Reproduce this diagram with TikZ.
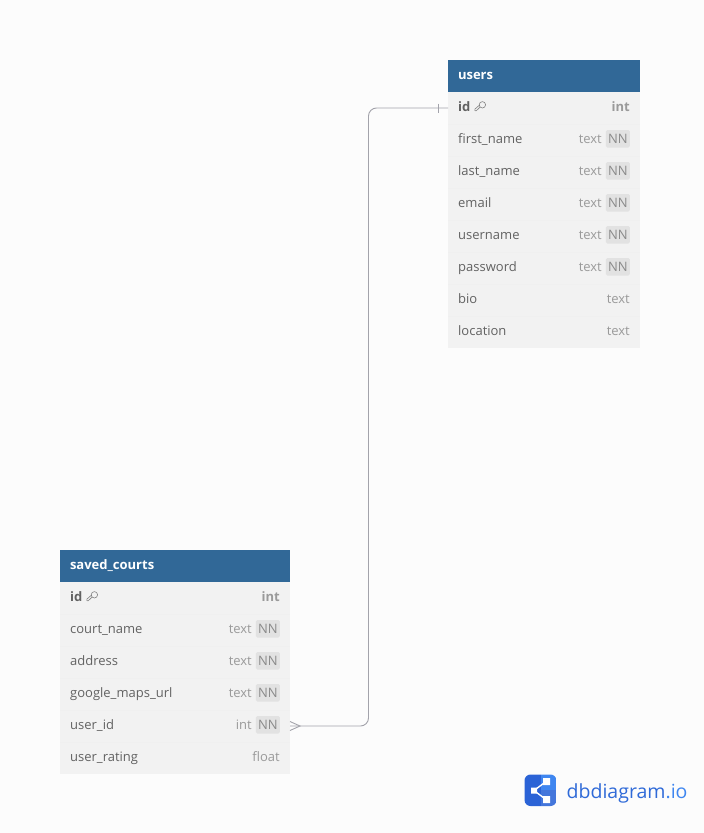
\documentclass[tikz,border=0pt]{standalone}
\usepackage{fontspec}
\setmainfont{Open Sans}
\usetikzlibrary{positioning}
\definecolor{pagebg}{HTML}{FCFCFC}
\definecolor{headblue}{HTML}{316897}
\definecolor{rowgray}{HTML}{F2F2F2}
\definecolor{rowline}{HTML}{F0F0F0}
\definecolor{fieldtxt}{HTML}{626262}
\definecolor{typetxt}{HTML}{9A9A9A}
\definecolor{nnfill}{HTML}{E2E2E2}
\definecolor{nntxt}{HTML}{8A8A8A}
\definecolor{linkgray}{HTML}{A3A3AB}
\definecolor{logodark}{HTML}{2B63D6}
\definecolor{logolight}{HTML}{3F86F0}
\definecolor{logotxt}{HTML}{2F6AD8}
\tikzset{
  tablehead/.style={fill=headblue,text=white,font=\fontsize{13}{15}\selectfont\bfseries,inner xsep=10pt,inner ysep=0pt,outer sep=0pt,minimum height=32pt,text width=#1-20pt,align=left,text height=9.5pt,text depth=3pt},
  rowbox/.style={fill=rowgray,inner sep=0pt,outer sep=0pt,minimum height=32pt,minimum width=#1},
  fieldname/.style={text=fieldtxt,font=\fontsize{13}{15}\selectfont,inner sep=0pt,anchor=west,text height=9.5pt,text depth=3pt},
  fieldtype/.style={text=typetxt,font=\fontsize{13}{15}\selectfont,inner sep=0pt,anchor=east,text height=9.5pt,text depth=3pt},
  nnbadge/.style={fill=nnfill,text=nntxt,font=\fontsize{13}{15}\selectfont,inner sep=0pt,rounded corners=1.5pt,minimum width=24pt,minimum height=17.5pt,anchor=east,yshift=1.25pt},
  keyicon/.pic={\draw[fieldtxt!80!white,line width=.6pt,line join=round] (2.4,-2.2) circle (3.2) (.2,0)--(-3.8,3.8)--(-5.2,3.6)--(-5.2,2.2)--(-.4,-2);},
  rel/.style={linkgray,line width=.9pt},
}
\begin{document}
\begin{tikzpicture}[x=1pt,y=-1pt]
\useasboundingbox[fill=pagebg] (0,0) rectangle (704,833);
% users
\node[tablehead=192pt,anchor=north west] (usershead) at (448,60) {users};
\node[rowbox=192pt,below=0pt of usershead] (usersrow1) {};
\node[fieldname,right=10pt of usersrow1.west,font=\fontsize{13}{15}\selectfont\bfseries] (usersname1) {id};
\node[fieldtype,left=10pt of usersrow1.east,font=\fontsize{13}{15}\selectfont\bfseries] (userstype1) {int};
\pic at (480,107) {keyicon};
\foreach \i/\fname/\ftype/\tx in {2/first\_name/text/38,3/last\_name/text/38,4/email/text/38,5/username/text/38,6/password/text/38,7/bio/text/10,8/location/text/10}{
  \pgfmathsetmacro\off{32*(\i-1)}
  \node[rowbox=192pt,below=\off pt of usershead] (usersrow\i) {};
  \draw[rowline,line width=.5pt] (usersrow\i.north west)--(usersrow\i.north east);
  \node[fieldname,right=10pt of usersrow\i.west] (usersname\i) {\fname};
  \node[fieldtype,left=\tx pt of usersrow\i.east] (userstype\i) {\ftype};
}
\foreach \i in {2,...,6}
  \node[nnbadge,left=10pt of usersrow\i.east] (usersnn\i) {NN};
% saved_courts
\node[tablehead=230pt,anchor=north west] (savedhead) at (60,550) {saved\_courts};
\node[rowbox=230pt,below=0pt of savedhead] (savedrow1) {};
\node[fieldname,right=10pt of savedrow1.west,font=\fontsize{13}{15}\selectfont\bfseries] (savedname1) {id};
\node[fieldtype,left=10pt of savedrow1.east,font=\fontsize{13}{15}\selectfont\bfseries] (savedtype1) {int};
\pic at (92,597) {keyicon};
\foreach \i/\fname/\ftype/\tx in {2/court\_name/text/38,3/address/text/38,4/google\_maps\_url/text/38,5/user\_id/int/38,6/user\_rating/float/10}{
  \pgfmathsetmacro\off{32*(\i-1)}
  \node[rowbox=230pt,below=\off pt of savedhead] (savedrow\i) {};
  \draw[rowline,line width=.5pt] (savedrow\i.north west)--(savedrow\i.north east);
  \node[fieldname,right=10pt of savedrow\i.west] (savedname\i) {\fname};
  \node[fieldtype,left=\tx pt of savedrow\i.east] (savedtype\i) {\ftype};
}
\foreach \i in {2,...,5}
  \node[nnbadge,left=10pt of savedrow\i.east] (savednn\i) {NN};
% relation
\draw[rel,rounded corners=8pt] (savedrow5.east)--++(78.5,0)|-(usersrow1.west);
\draw[rel] (savedrow5.east)++(0,-4.5)--++(10,4.5)--++(-10,4.5);
\draw[rel] (usersrow1.west)++(-10,-4.5)--++(0,9);
% logo
\begin{scope}
\clip[rounded corners=6pt] (524.5,774.5) rectangle (556.5,806);
\fill[logodark] (524,774) rectangle (541,807);
\fill[logolight] (541,774) rectangle (557,790);
\fill[logodark!88!white] (541,790) rectangle (557,807);
\end{scope}
\draw[white,line width=1.4pt] (546,781.5)--(534,790.5)--(546,799.5);
\fill[white] (531,787.5) rectangle (537,793.5) (543,778) rectangle (550,785) (543,796) rectangle (550,803);
\node[anchor=west,inner sep=0pt,font=\fontsize{19.5}{21}\selectfont,text=logotxt] (logotext) at (566.5,793) {dbdiagram\textcolor{logolight}{.io}};
\end{tikzpicture}
\end{document}
